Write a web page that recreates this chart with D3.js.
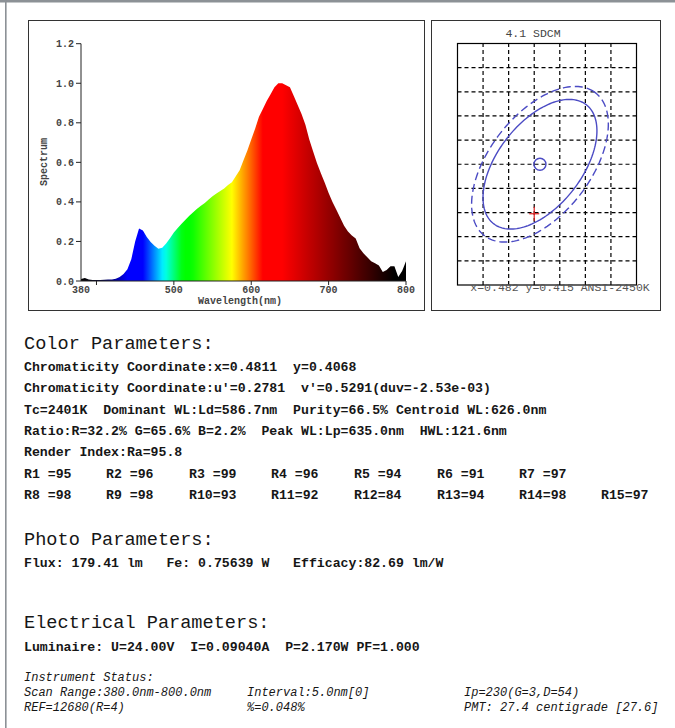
<!DOCTYPE html>
<html><head><meta charset="utf-8">
<script src="https://cdn.jsdelivr.net/npm/d3@7"></script>
<style>body{margin:0;background:#fff}svg{display:block}</style>
</head><body>
<svg id="c" width="675" height="728"></svg>
<script>
// ---------- DATA ----------
const wavelengths = [380,385,390,395,400,405,410,415,420,425,430,435,440,445,450,455,460,465,470,475,
  480,485,490,495,500,505,510,515,520,525,530,535,540,545,550,555,560,565,570,575,
  580,585,590,595,600,605,610,615,620,625,630,635,640,645,650,655,660,665,670,675,
  680,685,690,695,700,705,710,715,720,725,730,735,740,745,750,755,760,765,770,775,
  780,785,790,795,800];
const spectrum = [0.010,0.015,0.008,0.005,0.005,0.005,0.006,0.007,0.008,0.012,0.020,0.035,0.060,0.110,0.200,0.265,0.255,0.222,0.197,0.178,
  0.163,0.168,0.190,0.216,0.245,0.268,0.290,0.310,0.330,0.348,0.365,0.380,0.395,0.412,0.428,0.442,0.455,0.468,0.485,0.500,
  0.530,0.560,0.610,0.660,0.715,0.770,0.830,0.870,0.910,0.945,0.980,1.000,1.000,0.990,0.980,0.935,0.890,0.845,0.790,0.715,
  0.655,0.595,0.545,0.497,0.445,0.400,0.360,0.320,0.280,0.250,0.230,0.215,0.165,0.140,0.120,0.100,0.090,0.078,0.045,0.055,
  0.075,0.075,0.020,0.050,0.100];
const yTicks = [0.0,0.2,0.4,0.6,0.8,1.0,1.2];
const xTickMarks = [400,500,600,700,800];
const xTickLabels = [380,500,600,700,800];

const sdcmTitle = "4.1 SDCM";
const sdcmCaption = "x=0.482 y=0.415 ANSI-2450K";
const sdcmXDomain = [0.4691, 0.4971];
const sdcmYDomain = [0.395, 0.435];
const sdcmGridStep = 0.004;
const ansiCenter = [0.482, 0.415];
const measured = [0.4811, 0.4068];
const ellipseAxes = [0.01224, 0.0067]; // semi-major, semi-minor
const ellipseAngle = 55; // degrees
const outerScale = 1.2;

const colorParams = [
  "Chromaticity Coordinate:x=0.4811  y=0.4068",
  "Chromaticity Coordinate:u'=0.2781  v'=0.5291(duv=-2.53e-03)",
  "Tc=2401K  Dominant WL:Ld=586.7nm  Purity=66.5% Centroid WL:626.0nm",
  "Ratio:R=32.2% G=65.6% B=2.2%  Peak WL:Lp=635.0nm  HWL:121.6nm",
  "Render Index:Ra=95.8"
];
const rRow1 = ["R1 =95","R2 =96","R3 =99","R4 =96","R5 =94","R6 =91","R7 =97"];
const rRow2 = ["R8 =98","R9 =98","R10=93","R11=92","R12=84","R13=94","R14=98","R15=97"];
const photoLine = "Flux: 179.41 lm   Fe: 0.75639 W   Efficacy:82.69 lm/W";
const elecLine = "Luminaire: U=24.00V  I=0.09040A  P=2.170W PF=1.000";
const instTitle = "Instrument Status:";
const instRow1 = ["Scan Range:380.0nm-800.0nm","Interval:5.0nm[0]","Ip=230(G=3,D=54)"];
const instRow2 = ["REF=12680(R=4)","%=0.048%","PMT: 27.4 centigrade [27.6]"];

// ---------- DRAW ----------
const svg = d3.select("#c");
const MONO = "'Liberation Mono','Courier New',monospace";

// outer frame
svg.append("rect").attr("x",0).attr("y",0).attr("width",675).attr("height",2.5).attr("fill","#8c9196");
svg.append("rect").attr("x",5).attr("y",0).attr("width",1.6).attr("height",728).attr("fill","#8c9196");

// spectrum box
svg.append("rect").attr("x",28.5).attr("y",20.5).attr("width",396).attr("height",290)
  .attr("fill","none").attr("stroke","#333").attr("stroke-width",1);

const x = d3.scaleLinear().domain([380,800]).range([81,406]);
const y = d3.scaleLinear().domain([0,1.2]).range([281,43.7]);

function wlColor(l){
  let r,g,b;
  if(l<440){const t=(l-380)/60; r=0; g=0; b=255*Math.pow(t,1.6);}
  else if(l<460){r=0;g=0;b=255;}
  else if(l<487){r=0;g=255*(l-460)/27;b=255;}
  else if(l<512){r=0;g=255;b=255*(512-l)/25;}
  else if(l<522){r=0;g=255;b=0;}
  else if(l<575){r=255*(l-522)/53;g=255;b=0;}
  else if(l<615){r=255;g=255*(615-l)/40;b=0;}
  else if(l<640){r=255;g=0;b=0;}
  else {r=255*Math.max(0,(785-l)/145);g=0;b=0;}
  return d3.rgb(r,g,b).formatHex();
}
const defs = svg.append("defs");
const grad = defs.append("linearGradient").attr("id","spec").attr("gradientUnits","userSpaceOnUse")
  .attr("x1",x(380)).attr("x2",x(800)).attr("y1",0).attr("y2",0);
wavelengths.forEach(w=>{
  grad.append("stop").attr("offset",(x(w)-x(380))/(x(800)-x(380))).attr("stop-color",wlColor(w));
});
const pts = wavelengths.map((w,i)=>({w, v:spectrum[i]}));
const area = d3.area().x(d=>x(d.w)).y0(y(0)).y1(d=>y(d.v));
svg.append("path").datum(pts).attr("d",area).attr("fill","url(#spec)");

// axes
const ax = svg.append("g").attr("font-family",MONO).attr("font-size",10).attr("font-weight","bold").attr("fill","#444");
ax.append("line").attr("x1",x(380)).attr("x2",x(380)).attr("y1",y(1.2)).attr("y2",y(0)).attr("stroke","#222");
ax.append("line").attr("x1",x(380)).attr("x2",x(800)).attr("y1",y(0)).attr("y2",y(0)).attr("stroke","#222");
yTicks.forEach(t=>{
  ax.append("line").attr("x1",x(380)-5).attr("x2",x(380)).attr("y1",y(t)).attr("y2",y(t)).attr("stroke","#222");
  ax.append("text").attr("x",x(380)-7).attr("y",y(t)).attr("dy","0.35em").attr("text-anchor","end").text(t.toFixed(1));
});
xTickMarks.forEach(t=>{
  ax.append("line").attr("x1",x(t)).attr("x2",x(t)).attr("y1",y(0)).attr("y2",y(0)+4).attr("stroke","#222");
});
xTickLabels.forEach(t=>{
  ax.append("text").attr("x",x(t)).attr("y",y(0)+12).attr("text-anchor","middle").text(t);
});
ax.append("text").attr("x",240).attr("y",304).attr("text-anchor","middle").text("Wavelength(nm)");
ax.append("text").attr("transform","translate(47,162) rotate(-90)").attr("text-anchor","middle").text("Spectrum");

// SDCM box
svg.append("rect").attr("x",431.5).attr("y",20.5).attr("width",229).attr("height",290)
  .attr("fill","none").attr("stroke","#333").attr("stroke-width",1);
const sx = d3.scaleLinear().domain(sdcmXDomain).range([457.5,636.5]);
const sy = d3.scaleLinear().domain(sdcmYDomain).range([285,43.5]);
const g2 = svg.append("g");
const nCols = Math.round((sdcmXDomain[1]-sdcmXDomain[0])/sdcmGridStep);
const nRows = Math.round((sdcmYDomain[1]-sdcmYDomain[0])/sdcmGridStep);
for(let i=1;i<nCols;i++){
  const v = sdcmXDomain[0]+i*sdcmGridStep;
  g2.append("line").attr("x1",sx(v)).attr("x2",sx(v)).attr("y1",sy.range()[0]).attr("y2",sy.range()[1])
    .attr("stroke","#000").attr("stroke-width",1.2).attr("stroke-dasharray","4,3");
}
for(let i=1;i<nRows;i++){
  const v = sdcmYDomain[0]+i*sdcmGridStep;
  g2.append("line").attr("x1",sx.range()[0]).attr("x2",sx.range()[1]).attr("y1",sy(v)).attr("y2",sy(v))
    .attr("stroke","#000").attr("stroke-width",1.2).attr("stroke-dasharray","4,3");
}
g2.append("rect").attr("x",sx.range()[0]).attr("y",sy.range()[1]).attr("width",sx.range()[1]-sx.range()[0])
  .attr("height",sy.range()[0]-sy.range()[1]).attr("fill","none").attr("stroke","#000").attr("stroke-width",1.2);

function ellipsePts(k){
  const th = ellipseAngle*Math.PI/180, a=ellipseAxes[0]*k, b=ellipseAxes[1]*k;
  const out=[];
  for(let i=0;i<=180;i++){
    const t=i/180*2*Math.PI;
    const ex = ansiCenter[0] + a*Math.cos(th)*Math.cos(t) - b*Math.sin(th)*Math.sin(t);
    const ey = ansiCenter[1] + a*Math.sin(th)*Math.cos(t) + b*Math.cos(th)*Math.sin(t);
    out.push([sx(ex), sy(ey)]);
  }
  return out;
}
const line = d3.line();
g2.append("path").attr("d",line(ellipsePts(1))).attr("fill","none").attr("stroke","#4b4bc4").attr("stroke-width",1.4);
g2.append("path").attr("d",line(ellipsePts(outerScale))).attr("fill","none").attr("stroke","#4b4bc4")
  .attr("stroke-width",1.4).attr("stroke-dasharray","8,4");
g2.append("circle").attr("cx",sx(ansiCenter[0])).attr("cy",sy(ansiCenter[1])).attr("r",6)
  .attr("fill","none").attr("stroke","#4b4bc4").attr("stroke-width",1.4);
const mx = sx(measured[0]), my = sy(measured[1]);
g2.append("line").attr("x1",mx-5).attr("x2",mx+5).attr("y1",my).attr("y2",my).attr("stroke","#e02020").attr("stroke-width",1.2);
g2.append("line").attr("x1",mx).attr("x2",mx).attr("y1",my-7).attr("y2",my+7).attr("stroke","#e02020").attr("stroke-width",1.2);
g2.append("text").attr("x",533).attr("y",37).attr("text-anchor","middle").attr("font-family",MONO)
  .attr("font-size",11.5).attr("fill","#444").text(sdcmTitle);
g2.append("text").attr("x",560).attr("y",291).attr("text-anchor","middle").attr("font-family",MONO)
  .attr("font-size",11.5).attr("fill","#555").text(sdcmCaption);

// ---------- TEXT ----------
const T = svg.append("g").attr("font-family",MONO).attr("fill","#161616");
function head(txt,yy){T.append("text").attr("x",24).attr("y",yy).attr("font-size",18.6).style("white-space","pre").text(txt);}
function body(txt,xx,yy){T.append("text").attr("x",xx).attr("y",yy).attr("font-size",13.2).attr("font-weight","bold").style("white-space","pre").text(txt);}
function ital(txt,xx,yy){T.append("text").attr("x",xx).attr("y",yy).attr("font-size",12).attr("font-style","italic").style("white-space","pre").text(txt);}

head("Color Parameters:",349);
colorParams.forEach((t,i)=>body(t,24,371+i*21.3));
const rx = [24,106,189,271,354,437,519,601];
rRow1.forEach((t,i)=>body(t,rx[i],477.5));
rRow2.forEach((t,i)=>body(t,rx[i],499));
head("Photo Parameters:",545);
body(photoLine,24,567);
head("Electrical Parameters:",628);
body(elecLine,24,651);
const ix=[24,247,464];
ital(instTitle,24,681);
instRow1.forEach((t,i)=>ital(t,ix[i],696));
instRow2.forEach((t,i)=>ital(t,ix[i],711));
</script>
</body></html>
